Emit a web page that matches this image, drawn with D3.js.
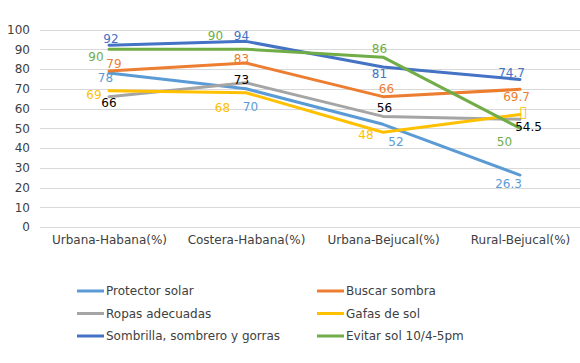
<!DOCTYPE html>
<html>
<head>
<meta charset="utf-8">
<script src="https://cdn.jsdelivr.net/npm/d3@7"></script>
<style>
  body { margin: 0; background: #fff; }
  svg { display: block; font-family: "DejaVu Sans", Verdana, sans-serif; }
</style>
</head>
<body>
<script>
// chart data
var categories = ["Urbana-Habana(%)", "Costera-Habana(%)", "Urbana-Bejucal(%)", "Rural-Bejucal(%)"];
var seriesNames = ["Protector solar", "Buscar sombra", "Ropas adecuadas", "Gafas de sol", "Sombrilla, sombrero y gorras", "Evitar sol 10/4-5pm"];
var protectorSolar = [78, 70, 52, 26.3];
var buscarSombra = [79, 83, 66, 69.7];
var ropasAdecuadas = [66, 73, 56, 54.5];
var gafasDeSol = [69, 68, 48, 57];
var sombrilla = [92, 94, 81, 74.7];
var evitarSol = [90, 90, 86, 50];
var yTicks = [0, 10, 20, 30, 40, 50, 60, 70, 80, 90, 100];
// label texts (last yellow label shows as an empty box in the original)
var labelTexts = [
    ["78", "70", "52", "26.3"],
    ["79", "83", "66", "69.7"],
    ["66", "73", "56", "54.5"],
    ["69", "68", "48", "\u25AF"],
    ["92", "94", "81", "74.7"],
    ["90", "90", "86", "50"]
];

// styles
var colors = ["#5B9BD5", "#ED7D31", "#A5A5A5", "#FFC000", "#4472C4", "#70AD47"];
var labelColors = ["#5B9BD5", "#ED7D31", "#000000", "#FFC000", "#4472C4", "#70AD47"];
// label offsets (dx, dy) from each point, per series
var labelOffsets = [
    [[-3.5, 5], [4.5, 18], [13, 17.7], [-11.5, 9]],
    [[5, -7], [-4.5, -4], [3.5, -7.5], [-3.5, 8]],
    [[0, 6], [-4.5, -3], [1.5, -8], [8.5, 8]],
    [[-15, 4], [-23.5, 15], [-17, 2.3], [3.5, -2]],
    [[2, -6], [-4.5, -5], [-3.5, 7], [-8.5, -6]],
    [[-13, 8], [-30.5, -13], [-3.5, -8.5], [-15.5, 14]]
];

var svgWidth = 580;
var svgHeight = 363;

var svg = d3.select("body")
    .append("svg")
    .attr("width", svgWidth)
    .attr("height", svgHeight);

var allSeries = [protectorSolar, buscarSombra, ropasAdecuadas, gafasDeSol, sombrilla, evitarSol];

// scales
var xScale = d3.scalePoint()
    .domain(categories)
    .range([40.5, 588.5])
    .padding(0.5);

var yScale = d3.scaleLinear()
    .domain([0, 100])
    .range([227, 29.5]);

// gridlines
svg.append("g")
    .selectAll("line")
    .data(yTicks)
    .enter()
    .append("line")
    .attr("x1", 40)
    .attr("x2", 580)
    .attr("y1", d => Math.round(yScale(d)) + 0.5)
    .attr("y2", d => Math.round(yScale(d)) + 0.5)
    .attr("stroke", "#D9D9D9")
    .attr("stroke-width", 1);

// y axis labels
var yAxis = d3.axisLeft(yScale).tickValues(yTicks).tickSize(0).tickPadding(0);
svg.append("g")
    .attr("transform", "translate(30,0)")
    .call(yAxis)
    .call(g => g.select(".domain").remove())
    .selectAll("text")
    .attr("font-family", "DejaVu Sans, Verdana, sans-serif")
    .attr("font-size", 12)
    .attr("fill", "#404040");

// x axis labels
var xAxis = d3.axisBottom(xScale).tickSize(0).tickPadding(0);
svg.append("g")
    .attr("transform", "translate(0,235)")
    .call(xAxis)
    .call(g => g.select(".domain").remove())
    .selectAll("text")
    .attr("font-family", "DejaVu Sans, Verdana, sans-serif")
    .attr("font-size", 12)
    .attr("fill", "#404040");

// lines
var line = d3.line()
    .x((d, i) => xScale(categories[i]))
    .y(d => yScale(d));

svg.append("g")
    .selectAll("path")
    .data(allSeries)
    .enter()
    .append("path")
    .attr("d", line)
    .attr("fill", "none")
    .attr("stroke", (d, i) => colors[i])
    .attr("stroke-width", 3)
    .attr("stroke-linejoin", "round")
    .attr("stroke-linecap", "round");

// data labels
allSeries.forEach(function(series, s) {
    svg.append("g")
        .selectAll("text")
        .data(series)
        .enter()
        .append("text")
        .attr("x", (d, i) => xScale(categories[i]) + labelOffsets[s][i][0])
        .attr("y", (d, i) => yScale(d) + labelOffsets[s][i][1])
        .attr("text-anchor", "middle")
        .attr("dominant-baseline", "central")
        // the empty box label is drawn bigger, like in the original
        .attr("font-size", (d, i) => labelTexts[s][i] === "\u25AF" ? 15 : 12)
        .attr("fill", labelColors[s])
        .text((d, i) => labelTexts[s][i]);
});

// legend
var legendCols = [77, 317];
var legendRows = [291, 313.5, 336];
var legend = svg.append("g")
    .selectAll("g")
    .data(seriesNames)
    .enter()
    .append("g")
    .attr("transform", (d, i) => `translate(${legendCols[i % 2]},${legendRows[Math.floor(i / 2)]})`);

legend.append("line")
    .attr("x1", 0)
    .attr("x2", 27)
    .attr("stroke", (d, i) => colors[i])
    .attr("stroke-width", 3);

legend.append("text")
    .attr("x", 29)
    .attr("dominant-baseline", "central")
    .attr("font-size", 12)
    .attr("fill", "#404040")
    .text(d => d);
</script>
</body>
</html>
